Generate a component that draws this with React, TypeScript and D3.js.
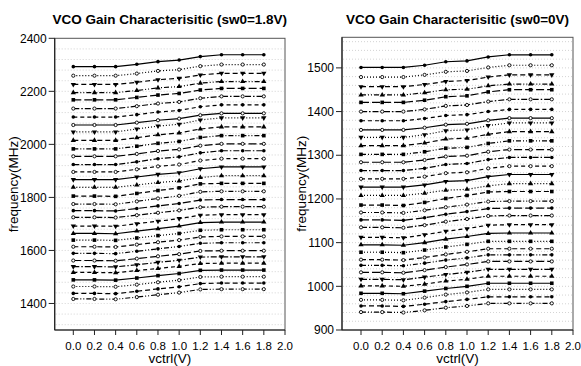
import React from 'react';
import * as d3 from 'd3';

// control voltage sweep (V)
const vctrl = [0, 0.2, 0.4, 0.6, 0.8, 1.0, 1.2, 1.4, 1.6, 1.8];
const xTickValues = [0, 0.2, 0.4, 0.6, 0.8, 1.0, 1.2, 1.4, 1.6, 1.8, 2.0];

// sw0 = 1.8V, 32 band curves (MHz)
const freqSw18: number[][] = [
  [2293, 2293, 2293, 2302, 2312, 2318, 2331, 2338, 2338, 2338],
  [2259, 2259, 2259, 2267, 2277, 2282, 2295, 2301, 2301, 2301],
  [2226, 2226, 2226, 2234, 2244, 2249, 2262, 2268, 2268, 2268],
  [2195, 2195, 2195, 2203, 2213, 2218, 2231, 2237, 2237, 2237],
  [2168, 2168, 2168, 2177, 2186, 2192, 2205, 2211, 2211, 2211],
  [2135, 2135, 2135, 2144, 2154, 2160, 2174, 2181, 2181, 2181],
  [2103, 2103, 2103, 2112, 2122, 2128, 2142, 2149, 2149, 2149],
  [2073, 2073, 2073, 2082, 2091, 2097, 2110, 2117, 2117, 2117],
  [2047, 2047, 2047, 2058, 2069, 2076, 2092, 2100, 2100, 2100],
  [2015, 2015, 2015, 2025, 2036, 2043, 2058, 2066, 2066, 2066],
  [1983, 1983, 1983, 1993, 2004, 2011, 2026, 2033, 2033, 2033],
  [1955, 1955, 1955, 1964, 1975, 1981, 1995, 2002, 2002, 2002],
  [1924, 1924, 1924, 1934, 1946, 1953, 1968, 1976, 1976, 1976],
  [1896, 1896, 1896, 1906, 1917, 1924, 1939, 1946, 1946, 1946],
  [1867, 1867, 1867, 1877, 1887, 1893, 1908, 1915, 1915, 1915],
  [1838, 1838, 1838, 1847, 1856, 1862, 1875, 1882, 1882, 1882],
  [1805, 1805, 1804, 1815, 1826, 1836, 1851, 1853, 1853, 1853],
  [1775, 1775, 1774, 1785, 1796, 1806, 1821, 1823, 1823, 1823],
  [1750, 1750, 1749, 1758, 1768, 1777, 1790, 1792, 1792, 1792],
  [1725, 1725, 1724, 1733, 1742, 1751, 1763, 1765, 1765, 1765],
  [1692, 1692, 1691, 1701, 1710, 1720, 1733, 1735, 1735, 1735],
  [1664, 1664, 1663, 1673, 1682, 1692, 1705, 1707, 1707, 1707],
  [1639, 1639, 1638, 1647, 1656, 1664, 1676, 1678, 1678, 1678],
  [1614, 1614, 1613, 1622, 1631, 1639, 1651, 1653, 1653, 1653],
  [1589, 1589, 1588, 1597, 1606, 1615, 1627, 1629, 1629, 1629],
  [1562, 1562, 1561, 1569, 1578, 1586, 1598, 1599, 1599, 1599],
  [1539, 1539, 1538, 1546, 1555, 1563, 1575, 1576, 1576, 1576],
  [1517, 1517, 1516, 1524, 1532, 1540, 1551, 1552, 1552, 1552],
  [1489, 1489, 1488, 1496, 1505, 1513, 1525, 1526, 1526, 1526],
  [1464, 1464, 1463, 1471, 1480, 1488, 1500, 1501, 1501, 1501],
  [1438, 1438, 1437, 1446, 1455, 1463, 1475, 1477, 1477, 1477],
  [1417, 1417, 1416, 1424, 1433, 1441, 1453, 1454, 1454, 1454],
];

// sw0 = 0V, 32 band curves (MHz)
const freqSw0: number[][] = [
  [1501, 1501, 1501, 1506, 1514, 1516, 1525, 1530, 1530, 1530],
  [1479, 1479, 1479, 1484, 1491, 1493, 1501, 1506, 1506, 1506],
  [1457, 1457, 1457, 1462, 1469, 1471, 1479, 1484, 1484, 1484],
  [1438, 1438, 1438, 1443, 1450, 1451, 1459, 1463, 1463, 1463],
  [1421, 1421, 1421, 1426, 1434, 1436, 1445, 1450, 1450, 1450],
  [1400, 1400, 1400, 1405, 1413, 1415, 1423, 1428, 1428, 1428],
  [1379, 1379, 1379, 1384, 1391, 1393, 1400, 1405, 1405, 1405],
  [1358, 1358, 1358, 1363, 1370, 1372, 1380, 1385, 1385, 1385],
  [1341, 1341, 1341, 1347, 1356, 1358, 1368, 1374, 1374, 1374],
  [1322, 1322, 1322, 1328, 1337, 1339, 1348, 1354, 1354, 1354],
  [1302, 1302, 1302, 1308, 1316, 1318, 1327, 1333, 1333, 1333],
  [1284, 1284, 1284, 1289, 1297, 1299, 1308, 1313, 1313, 1313],
  [1265, 1265, 1265, 1270, 1279, 1281, 1290, 1295, 1295, 1295],
  [1246, 1246, 1246, 1251, 1259, 1261, 1270, 1275, 1275, 1275],
  [1227, 1227, 1227, 1232, 1240, 1242, 1251, 1256, 1256, 1256],
  [1208, 1208, 1208, 1213, 1220, 1222, 1230, 1235, 1235, 1235],
  [1186, 1186, 1185, 1192, 1201, 1208, 1216, 1217, 1217, 1217],
  [1169, 1169, 1168, 1174, 1181, 1187, 1194, 1195, 1195, 1195],
  [1152, 1152, 1151, 1157, 1165, 1171, 1178, 1179, 1179, 1179],
  [1135, 1135, 1134, 1140, 1148, 1154, 1161, 1162, 1162, 1162],
  [1112, 1112, 1111, 1118, 1126, 1132, 1140, 1141, 1141, 1141],
  [1095, 1095, 1094, 1100, 1108, 1114, 1121, 1122, 1122, 1122],
  [1078, 1078, 1077, 1083, 1090, 1096, 1103, 1103, 1103, 1103],
  [1061, 1061, 1060, 1066, 1073, 1079, 1086, 1086, 1086, 1086],
  [1048, 1048, 1047, 1053, 1060, 1065, 1072, 1072, 1072, 1072],
  [1032, 1032, 1031, 1037, 1044, 1050, 1057, 1057, 1057, 1057],
  [1016, 1016, 1015, 1021, 1027, 1032, 1039, 1039, 1039, 1039],
  [1001, 1001, 1000, 1005, 1012, 1016, 1023, 1023, 1023, 1023],
  [984, 984, 983, 989, 995, 1000, 1007, 1007, 1007, 1007],
  [969, 969, 968, 974, 981, 986, 993, 993, 993, 993],
  [955, 955, 954, 959, 965, 970, 976, 976, 976, 976],
  [941, 941, 940, 945, 951, 955, 961, 961, 961, 961],
];

const yTicksSw18 = [1400, 1600, 1800, 2000, 2200, 2400];
const yTicksSw0 = [900, 1000, 1100, 1200, 1300, 1400, 1500];

// line / marker styles cycle like the original plot
const dashes = ['none', '1,2', '5,3', '5,2,1,2,1,2', '8,3', '6,2,1.5,2', '4,3'];
const markers = ['dot', 'ring', 'down', 'up', 'square', 'ring'];

const FONT = '"Liberation Sans", Arial, sans-serif';

type PanelProps = {
  title: string;
  series: number[][];
  yDomain: [number, number];
  yTicks: number[];
  gridStep: number;
  left: number;
  right: number;
  top: number;
  bottom: number;
  x0: number;
};

const Marker = ({ kind, x, y }: { kind: string; x: number; y: number }) => {
  if (kind === 'dot') return <circle cx={x} cy={y} r={1.8} fill="#000" />;
  if (kind === 'ring') return <circle cx={x} cy={y} r={1.6} fill="#fff" stroke="#000" strokeWidth={0.9} />;
  if (kind === 'square') return <rect x={x - 1.8} y={y - 1.8} width={3.6} height={3.6} fill="#000" />;
  const path = d3.symbol().type(d3.symbolTriangle).size(12)() as string;
  return <path d={path} transform={`translate(${x},${y}) rotate(${kind === 'down' ? 180 : 0})`} fill="#000" />;
};

const Panel = (p: PanelProps) => {
  const x = d3.scaleLinear().domain([0, 2]).range([p.x0, p.right]);
  const y = d3.scaleLinear().domain(p.yDomain).range([p.bottom, p.top]);
  const line = d3.line<number>().x((_, i) => x(vctrl[i])).y(d => y(d));
  const grid = d3.range(Math.ceil(p.yDomain[0] / p.gridStep) * p.gridStep, p.yDomain[1], p.gridStep)
    .filter(v => y(v) > p.top + 1 && y(v) < p.bottom - 1);
  const cx = (p.left + p.right) / 2;
  const cy = (p.top + p.bottom) / 2;

  return (
    <g>
      <text x={cx} y={24} textAnchor="middle" fontFamily={FONT} fontWeight="bold" fontSize={13.5}>{p.title}</text>
      {grid.map(v => (
        <line key={v} x1={p.left + 1} x2={p.right - 1} y1={y(v)} y2={y(v)} stroke="#c8c8c8" strokeWidth={0.8} strokeDasharray="1,2" />
      ))}
      <rect x={p.left} y={p.top} width={p.right - p.left} height={p.bottom - p.top} fill="none" stroke="#555" strokeWidth={1} />
      <line x1={p.left} x2={p.left} y1={p.top} y2={p.bottom} stroke="#222" strokeWidth={1.2} />
      <line x1={p.left} x2={p.right} y1={p.bottom} y2={p.bottom} stroke="#222" strokeWidth={1.2} />
      {p.series.map((s, i) => (
        <g key={i}>
          <path d={line(s) as string} fill="none" stroke="#000" strokeWidth={1.2} strokeDasharray={dashes[i % dashes.length]} />
          {s.map((v, j) => <Marker key={j} kind={markers[i % markers.length]} x={x(vctrl[j])} y={y(v)} />)}
        </g>
      ))}
      {p.yTicks.map(t => (
        <g key={t}>
          <line x1={p.left - 6} x2={p.left} y1={y(t)} y2={y(t)} stroke="#222" />
          <text x={p.left - 8} y={y(t)} dy="0.35em" textAnchor="end" fontFamily={FONT} fontSize={12}>{t}</text>
        </g>
      ))}
      {xTickValues.map(t => (
        <g key={t}>
          <line x1={x(t)} x2={x(t)} y1={p.bottom} y2={p.bottom + 5} stroke="#222" />
          <text x={x(t)} y={p.bottom + 16} dy="0.35em" textAnchor="middle" fontFamily={FONT} fontSize={11.5}>{d3.format('.1f')(t)}</text>
        </g>
      ))}
      <text x={cx} y={358} dy="0.35em" textAnchor="middle" fontFamily={FONT} fontSize={13.5}>vctrl(V)</text>
      <text transform={`translate(${p.left - 41},${cy}) rotate(-90)`} textAnchor="middle" dy="0.35em" fontFamily={FONT} fontSize={13.5}>frequency(MHz)</text>
    </g>
  );
};

export default function App() {
  return (
    <svg width={581} height={366} style={{ position: 'absolute', left: 0, top: 0, background: '#fff' }}>
      <Panel title="VCO Gain Characterisitic (sw0=1.8V)" series={freqSw18} yDomain={[1300, 2400]} yTicks={yTicksSw18}
        gridStep={40} left={54.7} right={285} top={38.3} bottom={330} x0={73.3} />
      <Panel title="VCO Gain Characterisitic (sw0=0V)" series={freqSw0} yDomain={[900, 1570]} yTicks={yTicksSw0}
        gridStep={20} left={342} right={573} top={37.3} bottom={330} x0={361} />
    </svg>
  );
}
